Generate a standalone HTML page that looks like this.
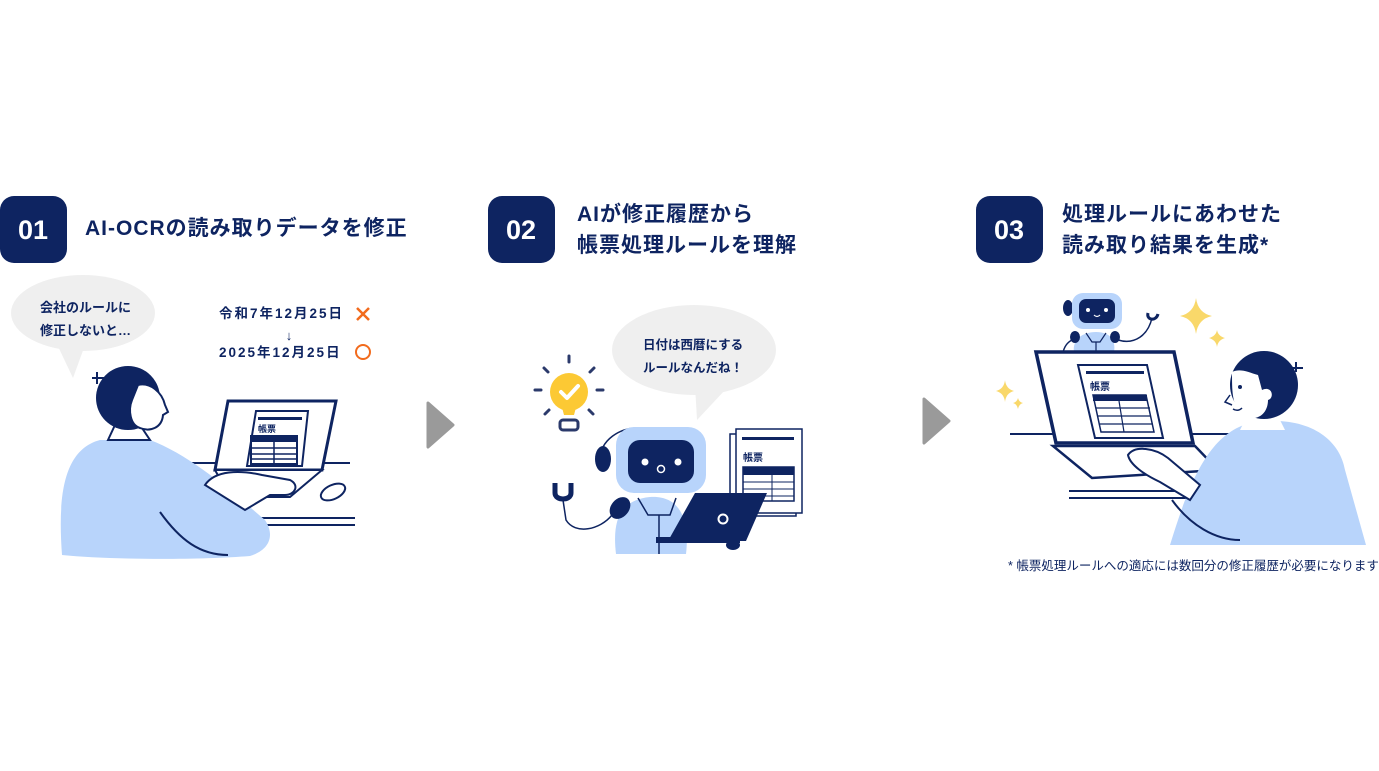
<!DOCTYPE html>
<html><head><meta charset="utf-8"><style>
html,body{margin:0;padding:0;background:#fff;}
svg{display:block;}
text{font-family:"Liberation Sans","Noto Sans CJK JP",sans-serif;fill:#0e2461;font-weight:bold;}
.t{font-size:21px;letter-spacing:1px;}
</style></head><body>
<svg width="1379" height="771" viewBox="0 0 1379 771" xmlns="http://www.w3.org/2000/svg">
<rect width="1379" height="771" fill="#fff"/>
<!-- Badges -->
<rect x="0" y="196" width="67" height="67" rx="14" fill="#0e2461"/>
<text x="33" y="239" font-size="27" text-anchor="middle" style="fill:#fff">01</text>
<text x="85" y="235" class="t">AI-OCRの読み取りデータを修正</text>
<rect x="488" y="196" width="67" height="67" rx="14" fill="#0e2461"/>
<text x="521" y="239" font-size="27" text-anchor="middle" style="fill:#fff">02</text>
<text x="577" y="221" class="t">AIが修正履歴から</text>
<text x="577" y="252" class="t">帳票処理ルールを理解</text>
<rect x="976" y="196" width="67" height="67" rx="14" fill="#0e2461"/>
<text x="1009" y="239" font-size="27" text-anchor="middle" style="fill:#fff">03</text>
<text x="1062" y="221" class="t">処理ルールにあわせた</text>
<text x="1062" y="252" class="t">読み取り結果を生成*</text>

<!-- Arrows -->
<path d="M428 403 L453 425 L428 447 Z" fill="#9a9a9a" stroke="#9a9a9a" stroke-width="3" stroke-linejoin="round"/>
<path d="M924 399 L949 421 L924 443 Z" fill="#9a9a9a" stroke="#9a9a9a" stroke-width="3" stroke-linejoin="round"/>

<!-- Panel 1 -->
<ellipse cx="83" cy="313" rx="72" ry="38" fill="#efefef"/>
<path d="M55 340 L73 378 L85 345 Z" fill="#efefef"/>
<text x="40" y="312" font-size="13">会社のルールに</text>
<text x="40" y="335" font-size="13">修正しないと…</text>
<text x="219" y="318" font-size="13.5" letter-spacing="2">令和7年12月25日</text>
<text x="289" y="340" font-size="13" text-anchor="middle">↓</text>
<text x="219" y="357" font-size="13.5" letter-spacing="2">2025年12月25日</text>
<path d="M357 308 L369 320 M369 308 L357 320" stroke="#f26b1d" stroke-width="2.5"/>
<circle cx="363" cy="352" r="7" fill="none" stroke="#f26b1d" stroke-width="2"/>
<!-- desk -->
<line x1="188" y1="463" x2="350" y2="463" stroke="#0e2461" stroke-width="2"/>
<line x1="258" y1="518" x2="355" y2="518" stroke="#0e2461" stroke-width="2"/>
<line x1="258" y1="525" x2="355" y2="525" stroke="#0e2461" stroke-width="2"/>
<ellipse cx="333" cy="492" rx="13" ry="7" fill="#fff" stroke="#0e2461" stroke-width="2" transform="rotate(-25 333 492)"/>
<!-- laptop -->
<path d="M228 401 L336 401 L322 470 L215 470 Z" fill="#fff" stroke="#0e2461" stroke-width="3"/>
<path d="M215 470 L322 470 L290 497 L230 497 Z" fill="#fff" stroke="#0e2461" stroke-width="2"/>
<path d="M256 411 L308 411 L302 466 L247 466 Z" fill="#fff" stroke="#0e2461" stroke-width="2"/>
<rect x="258" y="417" width="44" height="3" fill="#0e2461"/>
<text x="258" y="432" font-size="9">帳票</text>
<rect x="251" y="436" width="46" height="28" fill="#fff" stroke="#0e2461" stroke-width="2"/>
<rect x="251" y="436" width="46" height="6" fill="#0e2461"/>
<path d="M251 448 H297 M251 454 H297 M251 459 H297 M274 442 V464" stroke="#0e2461" stroke-width="1.5"/>
<!-- person -->
<path d="M62 555 C58 500 62 450 100 440 L150 440 C190 455 230 490 265 520 C275 535 270 550 250 556 C200 560 110 560 62 555 Z" fill="#b8d4fb"/>
<path d="M160 512 C180 540 200 555 228 555" fill="none" stroke="#0e2461" stroke-width="2"/>
<path d="M205 485 C215 470 240 470 262 475 L290 480 C300 485 295 495 285 495 L270 495 L245 510 Z" fill="#fff" stroke="#0e2461" stroke-width="2"/>
<path d="M108 440 L115 425 L140 425 L150 440 Z" fill="#fff" stroke="#0e2461" stroke-width="2"/>
<circle cx="128" cy="398" r="32" fill="#0e2461"/>
<path d="M138 385 C150 382 162 392 165 405 L168 412 L163 415 C162 428 150 432 140 428 C130 425 128 410 132 400 Z" fill="#fff" stroke="#0e2461" stroke-width="2"/>
<path d="M92 378 L104 378 M97 372 L97 384" stroke="#0e2461" stroke-width="2"/>
<!-- Panel 2 -->
<ellipse cx="694" cy="350" rx="82" ry="45" fill="#efefef"/>
<path d="M695 385 L697 420 L725 390 Z" fill="#efefef"/>
<text x="643" y="349" font-size="12.5">日付は西暦にする</text>
<text x="643" y="372" font-size="12.5">ルールなんだね！</text>
<circle cx="569" cy="392" r="19" fill="#fcc934"/>
<path d="M560 400 L578 400 L574 415 L564 415 Z" fill="#fcc934"/>
<path d="M561 392 L567 398 L578 386" fill="none" stroke="#fff" stroke-width="4" stroke-linecap="round" stroke-linejoin="round"/>
<rect x="560" y="420" width="18" height="10" rx="3" fill="none" stroke="#2b3a6b" stroke-width="3"/>
<g stroke="#2b3a6b" stroke-width="3" stroke-linecap="round">
<line x1="569" y1="356" x2="569" y2="362"/><line x1="544" y1="368" x2="548" y2="372"/><line x1="594" y1="368" x2="590" y2="372"/>
<line x1="535" y1="390" x2="541" y2="390"/><line x1="597" y1="390" x2="603" y2="390"/><line x1="545" y1="414" x2="549" y2="410"/><line x1="593" y1="414" x2="589" y2="410"/></g>
<!-- document -->
<rect x="730" y="434" width="66" height="82" fill="#fff" stroke="#0e2461" stroke-width="1.5"/>
<rect x="736" y="429" width="66" height="84" fill="#fff" stroke="#0e2461" stroke-width="1.5"/>
<rect x="742" y="437" width="52" height="3" fill="#0e2461"/>
<text x="743" y="461" font-size="10">帳票</text>
<rect x="743" y="467" width="51" height="34" fill="#fff" stroke="#0e2461" stroke-width="1.5"/>
<rect x="743" y="467" width="51" height="8" fill="#0e2461"/>
<path d="M743 482 H794 M743 489 H794 M743 496 H794 M772 475 V501" stroke="#0e2461" stroke-width="1"/>
<!-- robot -->
<path d="M616 554 C612 520 620 500 650 497 C680 495 690 520 686 554 Z" fill="#b8d4fb"/>
<path d="M638 498 L648 515 L670 515 L676 498 M659 515 V554" fill="none" stroke="#0e2461" stroke-width="1.5"/>
<path d="M600 460 C600 440 620 427 640 428" fill="none" stroke="#0e2461" stroke-width="1.5"/>
<ellipse cx="603" cy="459" rx="8" ry="13" fill="#0e2461"/>
<rect x="616" y="427" width="90" height="66" rx="18" fill="#b8d4fb"/>
<rect x="628" y="440" width="66" height="43" rx="12" fill="#0e2461"/>
<circle cx="645" cy="462" r="3.5" fill="#fff"/><circle cx="678" cy="462" r="3.5" fill="#fff"/>
<circle cx="661" cy="469" r="3.5" fill="none" stroke="#fff" stroke-width="1.5"/>
<ellipse cx="620" cy="508" rx="9" ry="12" fill="#0e2461" transform="rotate(40 620 508)"/>
<path d="M612 515 C600 530 575 535 566 520 L563 500" fill="none" stroke="#0e2461" stroke-width="1.5"/>
<path d="M555 483 V493 C555 501 571 501 571 493 V483" fill="none" stroke="#0e2461" stroke-width="5"/>
<path d="M695 493 L767 493 L746 541 L668 541 Z" fill="#0e2461"/>
<rect x="656" y="537" width="84" height="6" fill="#0e2461"/>
<ellipse cx="733" cy="545" rx="7" ry="5" fill="#0e2461"/>
<circle cx="723" cy="519" r="4.5" fill="none" stroke="#fff" stroke-width="2"/>
<!-- Panel 3 -->
<line x1="1010" y1="434" x2="1230" y2="434" stroke="#0e2461" stroke-width="2"/>
<line x1="1069" y1="491" x2="1200" y2="491" stroke="#0e2461" stroke-width="2"/>
<line x1="1069" y1="498" x2="1200" y2="498" stroke="#0e2461" stroke-width="2"/>
<!-- small robot -->
<path d="M1074 352 C1072 340 1082 332 1096 332 C1110 332 1116 340 1114 352 Z" fill="#b8d4fb"/>
<path d="M1086 333 L1092 342 L1100 342 L1106 333 M1096 342 V352" fill="none" stroke="#0e2461" stroke-width="1.2"/>
<ellipse cx="1075" cy="337" rx="5" ry="6" fill="#0e2461"/><ellipse cx="1115" cy="337" rx="5" ry="6" fill="#0e2461"/>
<path d="M1118 340 C1135 345 1148 335 1152 318" fill="none" stroke="#0e2461" stroke-width="1.5"/>
<path d="M1148 313 C1146 320 1156 322 1158 314" fill="none" stroke="#0e2461" stroke-width="3"/>
<path d="M1072 340 C1062 345 1060 360 1065 370" fill="none" stroke="#0e2461" stroke-width="1.5"/>
<path d="M1068 370 C1060 372 1062 380 1070 380" fill="none" stroke="#0e2461" stroke-width="3"/>
<ellipse cx="1068" cy="308" rx="5" ry="8" fill="#0e2461"/>
<rect x="1072" y="293" width="50" height="36" rx="11" fill="#b8d4fb"/>
<rect x="1079" y="299" width="36" height="24" rx="7" fill="#0e2461"/>
<circle cx="1088" cy="310" r="2" fill="#fff"/><circle cx="1106" cy="310" r="2" fill="#fff"/>
<path d="M1094 315 Q1097 318 1100 315" stroke="#fff" fill="none" stroke-width="1.2"/>
<!-- laptop big -->
<path d="M1036 352 L1174 352 L1193 443 L1056 443 Z" fill="#fff" stroke="#0e2461" stroke-width="3.5"/>
<path d="M1053 446 L1195 446 L1218 470 L1092 478 Z" fill="#fff" stroke="#0e2461" stroke-width="2.5"/>
<path d="M1078 365 L1147 365 L1163 438 L1095 438 Z" fill="#fff" stroke="#0e2461" stroke-width="2"/>
<rect x="1086" y="371" width="58" height="3" fill="#0e2461"/>
<text x="1090" y="390" font-size="10">帳票</text>
<path d="M1093 395 L1146 395 L1154 432 L1101 432 Z" fill="#fff" stroke="#0e2461" stroke-width="1.5"/>
<rect x="1093" y="395" width="54" height="6" fill="#0e2461"/>
<path d="M1096 408 H1150 M1098 416 H1151 M1100 424 H1153 M1119 401 L1124 432" stroke="#0e2461" stroke-width="1.2"/>
<!-- sparkles -->
<path d="M1196 298 Q1198 313 1212 316 Q1198 319 1196 334 Q1194 319 1180 316 Q1194 313 1196 298 Z" fill="#f9d86a"/>
<path d="M1217 330 Q1218 336 1225 338 Q1218 340 1217 347 Q1216 340 1209 338 Q1216 336 1217 330 Z" fill="#f9d86a"/>
<path d="M1005 380 Q1006 389 1014 391 Q1006 393 1005 402 Q1004 393 996 391 Q1004 389 1005 380 Z" fill="#f9d86a"/>
<path d="M1018 398 Q1019 402 1023 403 Q1019 404 1018 409 Q1017 404 1013 403 Q1017 402 1018 398 Z" fill="#f9d86a"/>
<!-- person 3 -->
<path d="M1170 545 C1190 480 1210 430 1255 422 C1310 415 1340 440 1345 470 L1366 545 Z" fill="#b8d4fb"/>
<path d="M1128 455 C1135 445 1155 448 1168 458 L1200 485 L1190 500 L1160 482 C1145 475 1130 465 1128 455 Z" fill="#fff" stroke="#0e2461" stroke-width="2"/>
<path d="M1172 500 C1190 525 1215 540 1240 540" fill="none" stroke="#0e2461" stroke-width="2"/>
<path d="M1240 430 L1245 420 L1280 420 L1285 430 Z" fill="#fff"/>
<circle cx="1264" cy="385" r="34" fill="#0e2461"/>
<path d="M1232 372 C1232 395 1232 410 1248 418 C1262 420 1268 410 1268 400 C1275 398 1272 385 1262 390 L1258 375 C1248 372 1240 368 1232 372 Z" fill="#fff"/>
<path d="M1230 395 L1225 402 L1232 405" fill="#fff" stroke="#0e2461" stroke-width="1.5"/>
<circle cx="1240" cy="387" r="2" fill="#0e2461"/>
<path d="M1233 409 Q1238 412 1242 408" fill="none" stroke="#0e2461" stroke-width="1.5"/>
<path d="M1290 368 L1303 368 M1296 362 L1296 372" stroke="#0e2461" stroke-width="2"/>
<text x="1008" y="570" font-size="12.5" style="font-weight:normal">* 帳票処理ルールへの適応には数回分の修正履歴が必要になります</text>
</svg>
</body></html>
